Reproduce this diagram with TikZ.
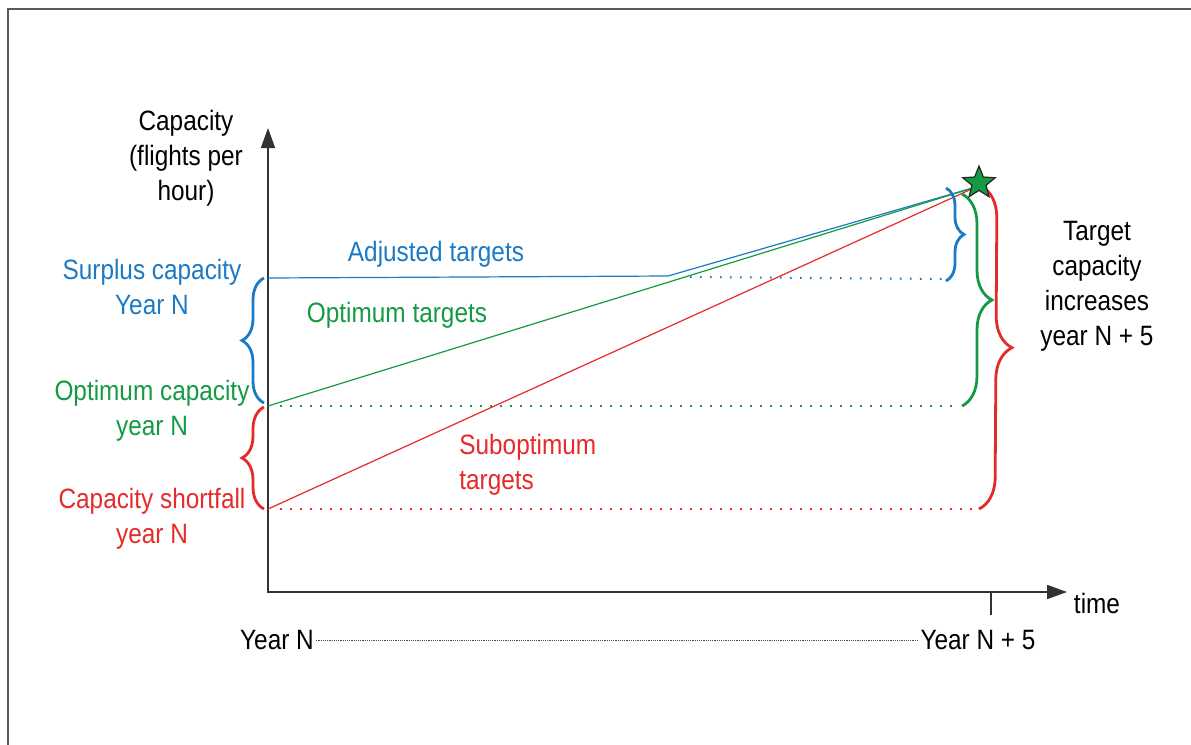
\documentclass[tikz,border=0pt]{standalone}
\usepackage{fontspec}
\setmainfont[FakeStretch=0.87]{Liberation Sans}
\usetikzlibrary{arrows.meta,decorations.pathreplacing,shapes.geometric}
\definecolor{cblue}{HTML}{1B7AC6}
\definecolor{cgreen}{HTML}{139A43}
\definecolor{cred}{HTML}{E52A2A}
\begin{document}
\begin{tikzpicture}[x=0.5pt,y=-0.5pt,
  font=\fontsize{14}{17.5}\selectfont,
  lbl/.style={align=center, inner sep=0pt},
  axisline/.style={line width=0.9pt, draw=black!80},
  trend/.style={line width=0.6pt},
  guide/.style={line width=1pt, dash pattern=on 0.8pt off 4.2pt},
  brc/.style={decorate, decoration={brace, amplitude=#1}, line width=1.4pt},
  frameline/.style={line width=1pt, draw=black!65},
]
\useasboundingbox (0,0) rectangle (1191,745);
% frame
\draw[frameline] (8,745) -- (8,9) -- (1191,9);

% axes
\coordinate (O) at (268,592);
\coordinate (ytop) at (268,128);
\coordinate (xend) at (1067,592);
\draw[axisline, {Triangle[length=10pt,width=7pt]}-{Triangle[length=10pt,width=7pt]}] (ytop) -- (O) -- (xend);
\coordinate (tickA) at (991,592);
\coordinate (tickB) at (991,615);
\draw[axisline] (tickA) -- (tickB);

% axis labels
\node[lbl] (cap) at (186,158) {Capacity\\(flights per\\hour)};
\node[lbl] (time) at (1097,603) {time};
\node[lbl] (yn) at (277,640) {Year N};
\node[lbl] (yn5) at (978,640) {Year N + 5};
\draw[black!70, line width=0.4pt, dash pattern=on 0.6pt off 0.5pt] ([xshift=1pt]yn.east) -- ([xshift=-1pt]yn5.west);

% key points
\coordinate (tip) at (976,187);
\coordinate (pB) at (268,278);
\coordinate (pBk) at (668,276);
\coordinate (pG) at (268,406);
\coordinate (pR) at (268,509);

% dotted guides
\coordinate (gB1) at (690,277);
\coordinate (gB2) at (945,279);
\coordinate (gG2) at (960,406);
\coordinate (gR2) at (976,509);
\draw[guide, cblue] (gB1) -- (gB2);
\draw[guide, cgreen] ([xshift=6]pG) -- (gG2);
\draw[guide, cred] ([xshift=6]pR) -- (gR2);

% trend lines
\draw[trend, cblue] (pB) -- (pBk) -- (tip);
\draw[trend, cgreen] (pG) -- (tip);
\draw[trend, cred] (pR) -- (tip);

% left braces
\draw[brc=11pt, cblue] (264,403) -- (264,278);
\draw[brc=11pt, cred] (264,509) -- (264,407);

% right braces
\draw[brc=9pt, cblue] (946,188) -- (946,281);
\draw[brc=15pt, cgreen] (962,194) -- (962,406);
\draw[brc=16pt, cred] (981,186) -- (979,509);

% star
\node[star, star points=5, star point ratio=2.3, minimum size=17pt, inner sep=0pt,
      fill=cgreen, draw=black!85, line width=0.6pt] (st) at (979,183) {};

% labels
\node[lbl, cblue] (lsur) at (152,287) {Surplus capacity\\Year N};
\node[lbl, cgreen] (lopt) at (152,411) {Optimum capacity\\year N};
\node[lbl, cred] (lsho) at (152,519) {Capacity shortfall\\year N};
\node[lbl, cblue] (ladj) at (436,254) {Adjusted targets};
\node[lbl, cgreen] (lot) at (397,315) {Optimum targets};
\node[lbl, cred, align=left, anchor=west] (lsub) at (459,465) {Suboptimum\\targets};
\node[lbl] (ltarget) at (1097,286) {Target\\capacity\\increases\\year N + 5};
\end{tikzpicture}
\end{document}
